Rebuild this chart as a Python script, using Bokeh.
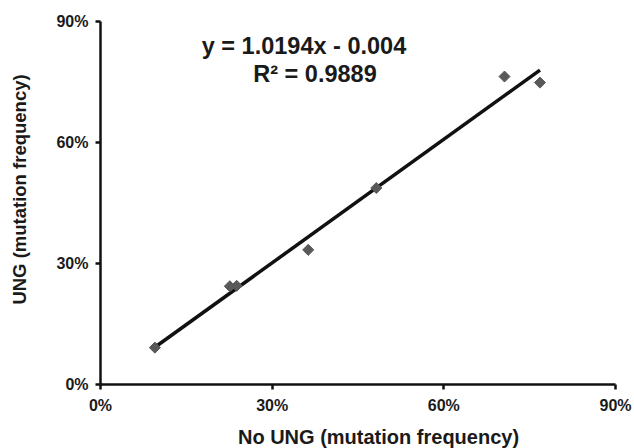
import numpy as np
from bokeh.plotting import figure
from bokeh.models import Range1d, FixedTicker, NumeralTickFormatter, Label
from bokeh.embed import file_html
from bokeh.resources import INLINE

# data (fractions)
no_ung = [0.095, 0.226, 0.238, 0.363, 0.482, 0.706, 0.768]
ung = [0.092, 0.244, 0.245, 0.334, 0.487, 0.763, 0.748]
slope = 1.0194
intercept = -0.004
r2 = 0.9889
ticks = [0.0, 0.3, 0.6, 0.9]
x_title = "No UNG (mutation frequency)"
y_title = "UNG (mutation frequency)"

FONT = "Liberation Sans"
INK = "#1a1a1a"

# layout: pixel geometry of the axes box inside the 634x448 canvas
W, H = 634, 448
X0_PX, X90_PX = 100.0, 615.0      # x pixel of 0% and 90%
Y0_PX, Y90_PX = 384.3, 20.7       # y pixel of 0% and 90%
kx = (X90_PX - X0_PX) / 0.9
ky = (Y0_PX - Y90_PX) / 0.9

def dx(px):
    return (px - X0_PX) / kx

def dy(py):
    return (Y0_PX - py) / ky

p = figure(width=W, height=H, output_backend="svg", toolbar_location=None,
           x_range=Range1d(dx(0), dx(W)), y_range=Range1d(dy(H), dy(0)),
           min_border=0)
p.outline_line_color = None
p.xgrid.visible = False
p.ygrid.visible = False
p.background_fill_color = "white"
p.border_fill_color = "white"

for ax in (p.xaxis[0], p.yaxis[0]):
    ax.fixed_location = 0
    ax.bounds = (ticks[0], ticks[-1])
    ax.ticker = FixedTicker(ticks=ticks)
    ax.formatter = NumeralTickFormatter(format="0%")
    ax.minor_tick_line_color = None
    ax.major_tick_in = 0
    ax.major_tick_out = 5
    ax.major_tick_line_width = 2.5
    ax.major_tick_line_color = "#111111"
    ax.axis_line_width = 2.5
    ax.axis_line_color = "#111111"
    ax.major_label_text_font = FONT
    ax.major_label_text_font_style = "bold"
    ax.major_label_text_font_size = "16px"
    ax.major_label_text_color = INK
    ax.major_label_standoff = 7

# trend line
xs = np.array([min(no_ung), max(no_ung)])
ys = slope * xs + intercept
p.line(xs, ys, line_color="#111111", line_width=3.5)

# points
p.scatter(no_ung, ung, marker="square", angle=np.pi / 4, size=7.8,
          fill_color="#595959", line_color="#595959")

def lab(text, px, py, size, angle=0.0):
    p.add_layout(Label(x=dx(px), y=dy(py), text=text, angle=angle,
                       text_align="center", text_baseline="middle",
                       text_font=FONT, text_font_style="bold",
                       text_font_size=size, text_color=INK))

# equation text (centres in pixels)
lab(f"y = {slope}x - {abs(intercept)}", 303.5, 45, "23.5px")
lab(f"R² = {r2}", 314.5, 73, "23.5px")

# axis titles
lab(x_title, 378, 436.5, "20px")
lab(y_title, 19, 189, "18.5px", angle=np.pi / 2)

open("out.html", "w").write(file_html(p, INLINE))
